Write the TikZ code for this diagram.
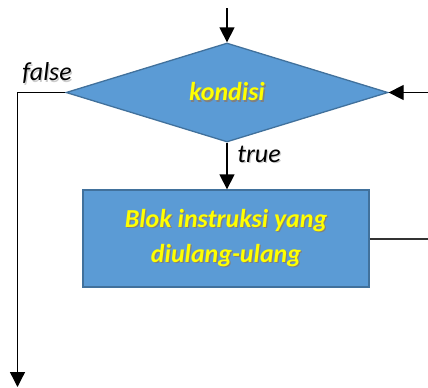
\documentclass[tikz,border=0pt]{standalone}
\usepackage{fontspec}
\setmainfont{Carlito}
\usetikzlibrary{positioning, arrows.meta, shapes.geometric}

\definecolor{isian}{HTML}{5B9BD5}
\definecolor{garis}{HTML}{41719C}
\definecolor{kuning}{HTML}{FFFF00}

% text with a soft dark shadow behind it
\newcommand{\bayang}[2][black!50]{\makebox[0pt][l]{\kern1.3bp\raisebox{-1.3bp}{\color{#1}#2}}#2}

\begin{document}
\begin{tikzpicture}[x=1bp, y=-1bp,
    keputusan/.style={diamond, draw=garis, fill=isian, line width=1.3bp,
                      minimum width=322bp, minimum height=99bp, inner sep=0pt,
                      font=\fontsize{26}{31}\selectfont\bfseries\itshape, text=kuning},
    blok/.style={rectangle, draw=garis, fill=isian, line width=1.3bp,
                 minimum width=286bp, minimum height=97bp, align=center,
                 font=\fontsize{26}{35}\selectfont\bfseries\itshape, text=kuning},
    label/.style={font=\fontsize{26}{31}\selectfont\itshape},
    alur/.style={-{Triangle[length=15bp, width=15bp]}, line width=1.3bp, black},
    polos/.style={line width=1.3bp, black!80}
]
\useasboundingbox (0,0) rectangle (428,388);

% Nodes
\node[keputusan] (kondisi) at (227,92.5) {\bayang{kondisi}};
\node[blok] (ulang) at (226,238.5) {\bayang{Blok instruksi yang}\\\bayang{diulang-ulang}};

% Labels
\node[label] (salah) at (47,74) {\bayang[black!20]{false}};
\node[label] (benar) at (259,155) {\bayang[black!20]{true}};

% Free ends
\coordinate (masuk) at (227,8);
\coordinate (belok) at (17.5,92.5);
\coordinate (keluar) at (17.5,387);
\coordinate (balik) at (428,92.5);
\coordinate (kanan) at (428,239);

% Connectors
\draw[alur] (masuk) -- (kondisi.north);
\draw[alur] (kondisi.south) -- (kondisi.south |- ulang.north);
\draw[alur] (kondisi.west) -- (belok) -- (keluar);
\draw[alur] (balik) -- (kondisi.east);
\draw[polos] (ulang.east |- kanan) -- (kanan);

\end{tikzpicture}
\end{document}
